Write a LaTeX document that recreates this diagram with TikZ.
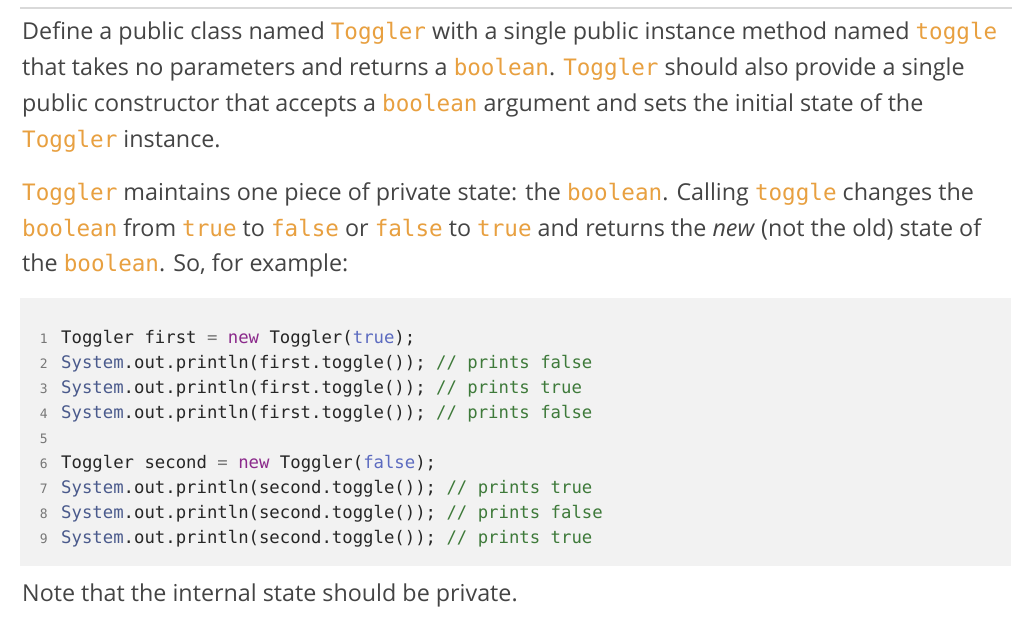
\documentclass[tikz,border=0pt]{standalone}
\usepackage{fontspec}
\setmainfont{Open Sans}
\setmonofont{DejaVu Sans Mono}
\definecolor{txt}{HTML}{444444}
\definecolor{org}{HTML}{E8A040}
\definecolor{kw}{HTML}{8B2A8B}
\definecolor{lit}{HTML}{5C6BC0}
\definecolor{sys}{HTML}{4A5A8C}
\definecolor{cmt}{HTML}{3E7A3A}
\definecolor{num}{HTML}{777777}
\definecolor{codebg}{HTML}{F2F2F2}
\newcommand{\ic}[1]{{\fontsize{22.6}{22.6}\ttfamily\color{org}#1}}
\newcommand{\cKw}[1]{{\color{kw}#1}}
\newcommand{\cLit}[1]{{\color{lit}#1}}
\newcommand{\cSys}{{\color{sys}System}}
\newcommand{\cCm}[1]{{\color{cmt}#1}}
\begin{document}
\begin{tikzpicture}[x=1pt,y=-1pt,
  body/.style={anchor=base west,inner sep=0pt,text=txt,font=\fontsize{23.3}{23.3}\selectfont},
  code/.style={anchor=base west,inner sep=0pt,text=black!85,font=\fontsize{17.3}{17.3}\ttfamily},
  ln/.style={anchor=base east,inner sep=0pt,text=num,font=\fontsize{13}{13}\ttfamily}]
\useasboundingbox[fill=white] (0,0) rectangle (1024,623);
\draw[black!15,line width=1.5pt] (20,8) -- (1012,8);
\node[body] (l1) at (22,40) {Define a public class named \ic{Toggler} with a single public instance method named \ic{toggle}};
\node[body] (l2) at (22,76) {that takes no parameters and returns a \ic{boolean}. \ic{Toggler} should also provide a single};
\node[body] (l3) at (22,111) {public constructor that accepts a \ic{boolean} argument and sets the initial state of the};
\node[body] (l4) at (22,147) {\ic{Toggler} instance.};
\node[body] (p1) at (22,200) {\ic{Toggler} maintains one piece of private state: the \ic{boolean}. Calling \ic{toggle} changes the};
\node[body] (p2) at (22,236) {\ic{boolean} from \ic{true} to \ic{false} or \ic{false} to \ic{true} and returns the \textit{new} (not the old) state of};
\node[body] (p3) at (22,271) {the \ic{boolean}. So, for example:};
\fill[codebg] (20,298) rectangle (1011,566);
\foreach \n/\y in {1/343,2/368,3/393,4/418,5/443,6/468,7/493,8/518,9/543}
  \node[ln] (n\n) at (48,\y) {\n};
\node[code] (c1) at (61,343) {Toggler first {\color{num}=} \cKw{new} Toggler(\cLit{true});};
\node[code] (c2) at (61,368) {\cSys.out.println(first.toggle()); \cCm{// prints false}};
\node[code] (c3) at (61,393) {\cSys.out.println(first.toggle()); \cCm{// prints true}};
\node[code] (c4) at (61,418) {\cSys.out.println(first.toggle()); \cCm{// prints false}};
\node[code] (c6) at (61,468) {Toggler second {\color{num}=} \cKw{new} Toggler(\cLit{false});};
\node[code] (c7) at (61,493) {\cSys.out.println(second.toggle()); \cCm{// prints true}};
\node[code] (c8) at (61,518) {\cSys.out.println(second.toggle()); \cCm{// prints false}};
\node[code] (c9) at (61,543) {\cSys.out.println(second.toggle()); \cCm{// prints true}};
\node[body] (nt) at (22,601) {Note that the internal state should be private.};
\end{tikzpicture}
\end{document}
